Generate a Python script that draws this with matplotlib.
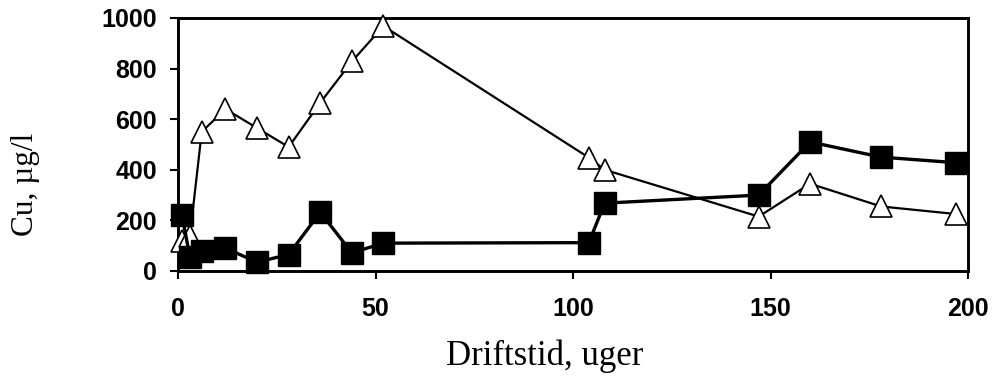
import matplotlib
matplotlib.use("Agg")
import matplotlib.pyplot as plt

# Operating time (weeks) and copper concentration (µg/l)
weeks_sq = [1, 3, 6, 12, 20, 28, 36, 44, 52, 104, 108, 147, 160, 178, 197]
cu_sq = [220, 55, 80, 90, 35, 65, 232, 72, 110, 112, 268, 300, 510, 450, 428]

weeks_tri = [1, 3, 6, 12, 20, 28, 36, 44, 52, 104, 108, 147, 160, 178, 197]
cu_tri = [120, 138, 550, 640, 565, 490, 665, 828, 968, 448, 400, 215, 345, 255, 225]

x_ticks = [0, 50, 100, 150, 200]
y_ticks = [0, 200, 400, 600, 800, 1000]

fig = plt.figure(figsize=(9.98, 3.76), dpi=100)
ax = fig.add_axes([0.1784, 0.2793, 0.7916, 0.6729])

ax.plot(weeks_tri, cu_tri, color="black", lw=1.6, marker="^", ms=16,
        mfc="white", mec="black", mew=1.2, clip_on=False, zorder=3)
ax.plot(weeks_sq, cu_sq, color="black", lw=2.4, marker="s", ms=15.5,
        mfc="black", mec="black", clip_on=False, zorder=4)

ax.set_xlim(0, 200)
ax.set_ylim(0, 1000)
ax.set_xticks(x_ticks)
ax.set_yticks(y_ticks)

tick_font = dict(family="Liberation Sans", weight="bold", size=18)
ax.set_xticklabels([str(v) for v in x_ticks], fontdict=tick_font)
ax.set_yticklabels([str(v) for v in y_ticks], fontdict=tick_font)
ax.tick_params(axis="both", direction="out", length=6, width=1.5, color="black")
ax.tick_params(axis="x", pad=13)
ax.tick_params(axis="y", pad=9)

for s in ax.spines.values():
    s.set_linewidth(2.1)

label_font = dict(family="Liberation Serif", size=25)
fig.text(0.5456, 0.0293, "Driftstid, uger", ha="center", va="baseline",
         fontdict=label_font)
fig.text(0.026, 0.51, "Cu, µg/l", ha="center", va="center", rotation=90,
         fontdict=dict(family="Liberation Serif", size=22.5))

fig.savefig("out.png", dpi=100)
